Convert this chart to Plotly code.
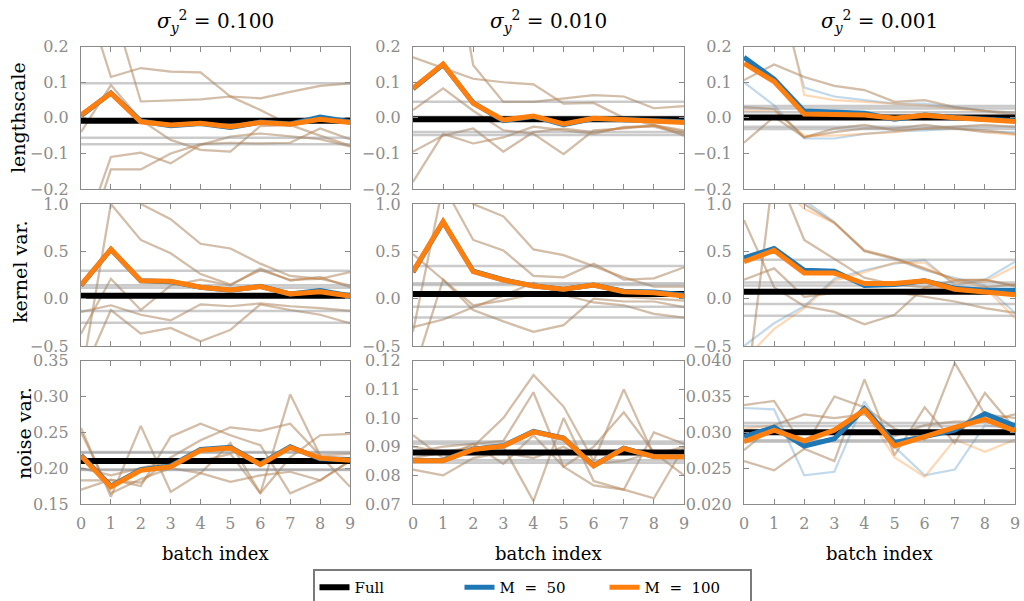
import plotly.graph_objects as go
from plotly.subplots import make_subplots

BATCH = list(range(10))
NOISE_LEVELS = ["0.100", "0.010", "0.001"]
ROW_LABELS = ["lengthscale", "kernel var.", "noise var."]
SERIES_NAMES = ["Full", "M\u00a0\u00a0=\u00a0\u00a050", "M\u00a0\u00a0=\u00a0\u00a0100"]

# ---------------- lengthscale ----------------
LS_FULL = [-0.008, -0.004, 0.001]
LS_FULL_BANDS = [[0.097, -0.056, -0.074], [0.045, 0.003, -0.04, -0.048],
                 [0.033, 0.026, 0.016, -0.025, -0.031]]
LS_M50 = [[0.006, 0.07, -0.009, -0.022, -0.016, -0.027, -0.012, -0.017, 0.002, -0.011],
          [0.082, 0.15, 0.042, -0.008, 0.004, -0.019, -0.002, -0.005, -0.009, -0.011],
          [0.17, 0.109, 0.019, 0.015, 0.013, -0.004, 0.008, 0.001, -0.004, -0.008]]
LS_M100 = [[0.008, 0.069, -0.011, -0.02, -0.015, -0.025, -0.013, -0.018, -0.004, -0.013],
           [0.083, 0.151, 0.041, -0.006, 0.005, -0.017, -0.001, -0.004, -0.008, -0.013],
           [0.153, 0.102, 0.011, 0.011, 0.008, -0.001, 0.007, 0.0, -0.004, -0.01]]
LS_BANDS = [
    [[0.38, 0.115, 0.14, 0.13, 0.128, 0.06, 0.022, -0.02, -0.05, -0.078],
     [0.5, 0.33, 0.046, 0.05, 0.052, 0.06, 0.055, 0.073, 0.09, 0.097],
     [-0.04, 0.092, -0.006, -0.062, -0.09, -0.095, -0.023, -0.02, -0.01, -0.015],
     [-0.35, -0.11, -0.098, -0.128, -0.076, -0.053, -0.044, -0.053, -0.06, -0.08],
     [-0.4, -0.145, -0.145, -0.10, -0.074, -0.07, -0.072, -0.07, -0.03, -0.06]],
    [[0.17, 0.14, 0.11, 0.1, 0.094, 0.04, 0.042, 0.0, -0.02, -0.035],
     [0.9, 0.62, 0.148, 0.045, 0.045, 0.055, 0.064, 0.06, 0.027, 0.033],
     [0.022, 0.083, 0.02, -0.035, -0.045, -0.102, -0.035, -0.03, -0.022, -0.04],
     [-0.095, -0.05, -0.03, -0.095, -0.04, -0.03, -0.04, -0.028, -0.02, -0.05],
     [-0.18, -0.045, -0.072, -0.055, -0.025, -0.035, -0.045, -0.025, -0.025, -0.045]],
    [[0.106, 0.15, 0.115, 0.09, 0.078, 0.045, 0.05, 0.03, 0.02, 0.015],
     [-0.07, 0.003, -0.055, -0.03, -0.02, -0.035, -0.03, -0.025, -0.02, -0.025],
     [0.03, 0.025, -0.055, -0.04, -0.03, -0.03, -0.02, -0.03, -0.035, -0.045]]]
LS_BANDS_M50_ONLY = [[], [],
                     [[0.1, 0.035, -0.058, -0.058, -0.045, -0.038, -0.035, -0.03, -0.04, -0.04],
                      [0.5, 0.4, 0.085, 0.06, 0.05, 0.04, 0.04, 0.03, 0.02, 0.01]]]
LS_BANDS_M100_ONLY = [[], [],
                      [[0.6, 0.45, 0.064, 0.05, 0.045, 0.04, 0.035, 0.025, 0.018, 0.008],
                       [0.02, 0.02, -0.05, -0.05, -0.045, -0.04, -0.03, -0.03, -0.04, -0.048]]]

# ---------------- kernel variance ----------------
KV_FULL = [0.03, 0.05, 0.072]
KV_FULL_BANDS = [[0.296, 0.141, 0.116, -0.13, -0.254], [0.345, 0.162, 0.144, -0.085, -0.2],
                 [0.41, 0.17, 0.14, -0.056, -0.18]]
KV_M50 = [[0.14, 0.52, 0.19, 0.18, 0.12, 0.09, 0.13, 0.05, 0.085, 0.03],
          [0.28, 0.81, 0.29, 0.2, 0.135, 0.1, 0.145, 0.078, 0.07, 0.04],
          [0.43, 0.53, 0.3, 0.29, 0.14, 0.15, 0.19, 0.11, 0.09, 0.09]]
KV_M100 = [[0.144, 0.521, 0.19, 0.183, 0.12, 0.092, 0.127, 0.049, 0.074, 0.028],
           [0.285, 0.813, 0.285, 0.197, 0.134, 0.1, 0.144, 0.074, 0.063, 0.028],
           [0.39, 0.51, 0.27, 0.27, 0.16, 0.16, 0.19, 0.1, 0.07, 0.04]]
KV_BANDS = [
    [[-0.14, -0.07, -0.17, -0.23, -0.06, -0.08, -0.05, -0.08, -0.1, -0.13],
     [-0.37, 0.21, -0.12, 0.14, 0.2, 0.14, 0.32, 0.19, 0.23, 0.12],
     [-0.85, 1.0, 0.62, 0.48, 0.26, 0.15, 0.3, 0.2, 0.21, 0.28],
     [1.8, 1.4, 1.0, 0.84, 0.58, 0.53, 0.37, 0.24, 0.21, 0.14],
     [-0.84, -0.12, -0.37, -0.31, -0.45, -0.33, -0.06, -0.12, -0.17, -0.26]],
    [[-0.35, 1.2, 0.62, 0.51, 0.24, 0.225, 0.37, 0.2, 0.215, 0.33],
     [1.6, 1.3, 1.0, 0.87, 0.52, 0.46, 0.34, 0.225, 0.127, 0.127],
     [0.47, 0.2, -0.12, -0.24, -0.35, -0.28, 0.0, -0.03, -0.03, -0.09],
     [-0.3, -0.22, -0.09, 0.03, 0.17, 0.04, -0.04, -0.07, -0.16, -0.2],
     [-0.8, 0.2, -0.07, -0.02, 0.05, 0.06, 0.05, 0.02, 0.0, -0.02]],
    [[0.83, 0.12, -0.08, -0.14, -0.27, -0.17, 0.12, 0.19, 0.2, 0.13],
     [-1.2, 1.4, 0.62, 0.42, 0.22, 0.15, 0.12, 0.1, 0.12, 0.15],
     [1.6, 1.25, 1.0, 0.8, 0.51, 0.43, 0.32, 0.2, 0.2, 0.14],
     [0.2, 0.32, 0.02, 0.06, 0.09, 0.07, 0.02, -0.03, -0.1, -0.15]]]
KV_BANDS_M50_ONLY = [[], [],
                     [[-0.5, -0.26, -0.08, 0.21, 0.3, 0.37, 0.41, 0.14, 0.2, 0.39],
                      [1.7, 1.3, 1.04, 0.81, 0.5, 0.42, 0.3, 0.22, 0.14, -0.15]]]
KV_BANDS_M100_ONLY = [[], [],
                      [[-0.65, -0.32, -0.1, 0.19, 0.28, 0.38, 0.38, 0.16, 0.18, 0.34],
                       [1.6, 1.25, 0.95, 0.8, 0.5, 0.42, 0.31, 0.2, 0.12, -0.21]]]

# ---------------- noise variance ----------------
NV_FULL = [0.21, 0.088, 0.030]
NV_FULL_BANDS = [[0.2225, 0.2215, 0.198, 0.1975], [0.0918, 0.091, 0.0853, 0.0844],
                 [0.0313, 0.0309, 0.0289, 0.0287]]
NV_M50 = [[0.218, 0.175, 0.198, 0.203, 0.226, 0.229, 0.206, 0.23, 0.213, 0.212],
          [0.0852, 0.0852, 0.0891, 0.0903, 0.0953, 0.093, 0.0834, 0.0895, 0.0866, 0.0866],
          [0.0294, 0.0307, 0.0281, 0.0291, 0.0333, 0.0286, 0.0294, 0.0303, 0.0326, 0.0309]]
NV_M100 = [[0.217, 0.174, 0.197, 0.202, 0.225, 0.228, 0.205, 0.229, 0.214, 0.211],
           [0.0851, 0.0851, 0.089, 0.0902, 0.0952, 0.0929, 0.0833, 0.0894, 0.0865, 0.0865],
           [0.0287, 0.0303, 0.0288, 0.0303, 0.0331, 0.0281, 0.0294, 0.0307, 0.0318, 0.0302]]
NV_BANDS = [
    [[0.256, 0.16, 0.259, 0.167, 0.193, 0.235, 0.165, 0.303, 0.218, 0.174],
     [0.17, 0.184, 0.175, 0.244, 0.262, 0.246, 0.232, 0.165, 0.183, 0.21],
     [0.183, 0.183, 0.18, 0.215, 0.239, 0.257, 0.252, 0.262, 0.218, 0.22],
     [0.25, 0.165, 0.185, 0.2, 0.193, 0.181, 0.19, 0.195, 0.183, 0.21],
     [0.2, 0.19, 0.2, 0.21, 0.21, 0.22, 0.165, 0.215, 0.246, 0.248]],
    [[0.09, 0.088, 0.09, 0.1, 0.115, 0.104, 0.085, 0.11, 0.087, 0.09],
     [0.088, 0.09, 0.091, 0.092, 0.109, 0.083, 0.09, 0.102, 0.088, 0.08],
     [0.086, 0.088, 0.088, 0.09, 0.071, 0.1, 0.078, 0.075, 0.095, 0.091],
     [0.094, 0.086, 0.091, 0.084, 0.094, 0.083, 0.0765, 0.075, 0.072, 0.09],
     [0.082, 0.08, 0.086, 0.088, 0.086, 0.09, 0.084, 0.085, 0.088, 0.088]],
    [[0.0338, 0.0344, 0.0278, 0.035, 0.0335, 0.0305, 0.029, 0.0397, 0.0325, 0.032],
     [0.026, 0.0247, 0.0277, 0.026, 0.0374, 0.0268, 0.0335, 0.0285, 0.0355, 0.0305],
     [0.0275, 0.031, 0.0325, 0.032, 0.0325, 0.0295, 0.031, 0.0315, 0.0315, 0.0325]]]
NV_BANDS_M50_ONLY = [[], [],
                     [[0.0334, 0.0332, 0.024, 0.0245, 0.0343, 0.028, 0.024, 0.0248, 0.031, 0.0305]]]
NV_BANDS_M100_ONLY = [[], [],
                      [[0.0305, 0.031, 0.029, 0.03, 0.033, 0.0265, 0.0238, 0.029, 0.0273, 0.029]]]

Y_RANGES = [[[-0.2, 0.2]] * 3, [[-0.5, 1.0]] * 3,
            [[0.15, 0.35], [0.07, 0.12], [0.020, 0.040]]]
Y_TICKS = [[[-0.2, -0.1, 0.0, 0.1, 0.2]] * 3, [[-0.5, 0.0, 0.5, 1.0]] * 3,
           [[0.15, 0.20, 0.25, 0.30, 0.35], [0.07, 0.08, 0.09, 0.10, 0.11, 0.12],
            [0.020, 0.025, 0.030, 0.035, 0.040]]]
Y_FORMATS = [[".1f"] * 3, [".1f"] * 3, [".2f", ".2f", ".3f"]]

ROWS = [
    (LS_FULL, LS_FULL_BANDS, LS_M50, LS_M100, LS_BANDS, LS_BANDS_M50_ONLY, LS_BANDS_M100_ONLY),
    (KV_FULL, KV_FULL_BANDS, KV_M50, KV_M100, KV_BANDS, KV_BANDS_M50_ONLY, KV_BANDS_M100_ONLY),
    (NV_FULL, NV_FULL_BANDS, NV_M50, NV_M100, NV_BANDS, NV_BANDS_M50_ONLY, NV_BANDS_M100_ONLY),
]

BLUE = "#1f77b4"
ORANGE = "#ff7f0e"
BLUE_T = "rgba(31,119,180,0.28)"
ORANGE_T = "rgba(255,127,14,0.30)"
GRAY_T = "rgba(140,140,140,0.45)"
AXIS_GRAY = "#8a8a8a"
FONT = "DejaVu Serif"

W, H = 1024, 601
XDOM = [(81, 350), (413, 684), (744, 1015)]
YDOM = [(46.7, 189), (204, 346), (360.7, 504)]

fig = make_subplots(rows=3, cols=3)


def line(x, y, color, width, name=None, legend=False, r=1, c=1):
    fig.add_trace(go.Scatter(x=x, y=y, mode="lines", line=dict(color=color, width=width),
                             name=name, showlegend=legend, hoverinfo="skip"), row=r, col=c)


for ri, (full, fbands, m50, m100, bands, b50, b100) in enumerate(ROWS):
    for ci in range(3):
        r, c = ri + 1, ci + 1
        for b in bands[ci] + b50[ci]:
            line(BATCH, b, BLUE_T, 2.2, r=r, c=c)
        for b in bands[ci] + b100[ci]:
            line(BATCH, b, ORANGE_T, 2.2, r=r, c=c)
        for g in fbands[ci]:
            line(BATCH, [g] * len(BATCH), GRAY_T, 2.5, r=r, c=c)
        first = (ri == 0 and ci == 0)
        line(BATCH, [full[ci]] * len(BATCH), "black", 6, SERIES_NAMES[0], first, r, c)
        line(BATCH, m50[ci], BLUE, 5, SERIES_NAMES[1], first, r, c)
        line(BATCH, m100[ci], ORANGE, 5, SERIES_NAMES[2], first, r, c)

for ri in range(3):
    for ci in range(3):
        idx = ri * 3 + ci + 1
        xa = "xaxis" if idx == 1 else f"xaxis{idx}"
        ya = "yaxis" if idx == 1 else f"yaxis{idx}"
        x0, x1 = XDOM[ci]
        y0, y1 = YDOM[ri]
        common = dict(showline=True, mirror="ticks", linecolor=AXIS_GRAY, linewidth=1.3,
                      ticks="inside", ticklen=5, tickcolor=AXIS_GRAY, tickwidth=1,
                      showgrid=False, zeroline=False, automargin=False,
                      tickfont=dict(family=FONT, size=16, color="#8c8c8c"))
        fig.layout[xa].update(domain=[x0 / W, x1 / W], range=[0, 9], tickvals=BATCH,
                              showticklabels=(ri == 2), ticklabelstandoff=5, **common)
        fig.layout[ya].update(domain=[1 - y1 / H, 1 - y0 / H], range=Y_RANGES[ri][ci],
                              tickvals=Y_TICKS[ri][ci], tickformat=Y_FORMATS[ri][ci],
                              ticklabelstandoff=8, **common)

annotations = []
for ci, lvl in enumerate(NOISE_LEVELS):
    xc = (XDOM[ci][0] + XDOM[ci][1]) / 2 / W
    annotations.append(dict(text=f"<i>σ</i><sub><i>y</i></sub><sup>2</sup> = {lvl}",
                            x=xc, y=1 - 22 / H, xref="paper", yref="paper",
                            xanchor="center", yanchor="middle",
                            showarrow=False, font=dict(family=FONT, size=20, color="black")))
    annotations.append(dict(text="batch index", x=xc, y=1 - 553 / H, xref="paper",
                            yref="paper", xanchor="center", yanchor="middle", showarrow=False,
                            font=dict(family=FONT, size=18, color="black")))
Y_LABEL_POS = [(18, 118), (20, 272), (24, 433)]
for ri, lab in enumerate(ROW_LABELS):
    px, py = Y_LABEL_POS[ri]
    annotations.append(dict(text=lab, x=px / W, y=1 - py / H, xref="paper", yref="paper",
                            xanchor="center", yanchor="middle",
                            textangle=-90, showarrow=False,
                            font=dict(family=FONT, size=19, color="black")))

fig.update_layout(
    template="none",
    width=W, height=H, margin=dict(l=0, r=0, t=0, b=0, autoexpand=False),
    paper_bgcolor="white", plot_bgcolor="white",
    annotations=annotations,
    legend=dict(orientation="h", x=532 / W, xanchor="center", y=1 - 569 / H, yanchor="top",
                bgcolor="white", bordercolor="#7a7a7a", borderwidth=2,
                font=dict(family=FONT, size=15, color="black"),
                entrywidth=100, entrywidthmode="pixels"),
)

fig.write_html("out.html", config={"displayModeBar": False},
               post_script="document.body.style.margin='0';document.body.style.padding='0';")
